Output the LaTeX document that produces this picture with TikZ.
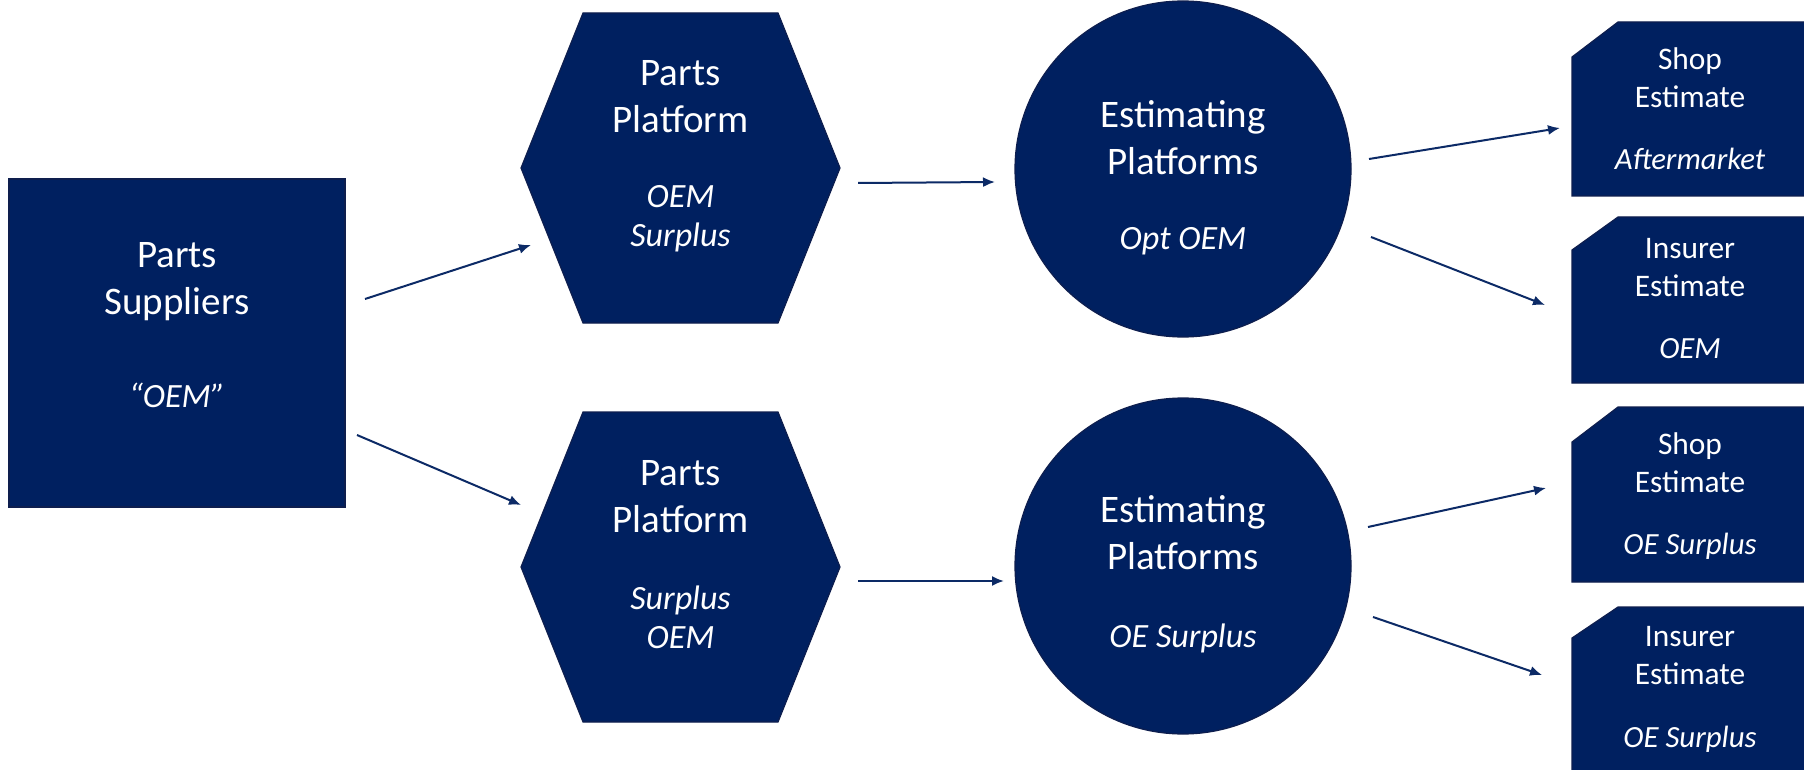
\documentclass[tikz,border=0pt]{standalone}
\usepackage{fontspec}
\setmainfont{Carlito}
\usetikzlibrary{arrows.meta,calc}
\definecolor{navy}{HTML}{002060}
\definecolor{navyline}{HTML}{0E1E4E}
\definecolor{arrowcol}{HTML}{0C2A66}
\begin{document}
\begin{tikzpicture}[x=0.5pt,y=-0.5pt,
  hidden/.style={draw=none,inner sep=0pt,outer sep=0pt,rectangle},
  fillshape/.style={fill=navy,draw=navyline,line width=0.6pt},
  title/.style={text=white,align=center,inner sep=0pt,font=\fontsize{19.5pt}{23.5pt}\selectfont},
  sub/.style={text=white,align=center,inner sep=0pt,font=\fontsize{17pt}{19.5pt}\selectfont\itshape},
  stitle/.style={text=white,align=center,inner sep=0pt,font=\fontsize{15.7pt}{19pt}\selectfont},
  ssub/.style={text=white,align=center,inner sep=0pt,font=\fontsize{15.4pt}{18pt}\selectfont\itshape},
  arr/.style={draw=arrowcol,line width=1pt,-{Latex[length=6pt,width=5pt]}}]
\useasboundingbox (0,0) rectangle (1804,770);
\fill[white] (0,0) rectangle (1804,770);

% square
\node[rectangle,fillshape,inner sep=0pt,outer sep=0pt,minimum width=168pt,minimum height=164pt] (sq) at (177,343) {};
\node[title] (sqT) at (177,282) {Parts\\Suppliers};
\node[sub] (sqS) at (177,395) {“OEM”};

% hexagons
\node[hidden,minimum width=159.5pt,minimum height=155pt] (hexA) at (680.5,168) {};
\filldraw[fillshape] (hexA.west) -- ($(hexA.north west)+(62,0)$) -- ($(hexA.north east)+(-62,0)$) -- (hexA.east) -- ($(hexA.south east)+(-62,0)$) -- ($(hexA.south west)+(62,0)$) -- cycle;
\node[title] (hexAT) at (680.5,97) {Parts\\Platform};
\node[sub] (hexAS) at (680.5,219) {OEM\\Surplus};

\node[hidden,minimum width=159.5pt,minimum height=155pt] (hexB) at (680.5,567) {};
\filldraw[fillshape] (hexB.west) -- ($(hexB.north west)+(62,0)$) -- ($(hexB.north east)+(-62,0)$) -- (hexB.east) -- ($(hexB.south east)+(-62,0)$) -- ($(hexB.south west)+(62,0)$) -- cycle;
\node[title] (hexBT) at (680.5,497) {Parts\\Platform};
\node[sub] (hexBS) at (680.5,617) {Surplus\\OEM};

% circles
\node[circle,fillshape,inner sep=0pt,outer sep=0pt,minimum size=168pt] (circA) at (1183,169) {};
\node[title] (circAT) at (1183,138) {Estimating\\Platforms};
\node[sub] (circAS) at (1183,241) {Opt OEM};
\node[circle,fillshape,inner sep=0pt,outer sep=0pt,minimum size=168pt] (circB) at (1183,566) {};
\node[title] (circBT) at (1183,533) {Estimating\\Platforms};
\node[sub] (circBS) at (1183,638) {OE Surplus};

% snipped boxes
\node[hidden,minimum width=118pt,minimum height=87pt] (boxA) at (1690,109) {};
\filldraw[fillshape] (boxA.south west) -- ($(boxA.north west)+(0,35)$) -- ($(boxA.north west)+(46,0)$) -- (boxA.north east) -- (boxA.south east) -- cycle;
\node[stitle] (boxAT) at (1690,78) {Shop\\Estimate};
\node[ssub] (boxAS) at (1690,159) {Aftermarket};

\node[hidden,minimum width=118pt,minimum height=83pt] (boxB) at (1690,300) {};
\filldraw[fillshape] (boxB.south west) -- ($(boxB.north west)+(0,33)$) -- ($(boxB.north west)+(46,0)$) -- (boxB.north east) -- (boxB.south east) -- cycle;
\node[stitle] (boxBT) at (1690,268) {Insurer\\Estimate};
\node[ssub] (boxBS) at (1690,349) {OEM};

\node[hidden,minimum width=118pt,minimum height=87.5pt] (boxC) at (1690,494.5) {};
\filldraw[fillshape] (boxC.south west) -- ($(boxC.north west)+(0,35)$) -- ($(boxC.north west)+(46,0)$) -- (boxC.north east) -- (boxC.south east) -- cycle;
\node[stitle] (boxCT) at (1690,463) {Shop\\Estimate};
\node[ssub] (boxCS) at (1690,546) {OE Surplus};

\node[hidden,minimum width=118pt,minimum height=86.5pt] (boxD) at (1690,693.5) {};
\filldraw[fillshape] (boxD.south west) -- ($(boxD.north west)+(0,31)$) -- ($(boxD.north west)+(46,0)$) -- (boxD.north east) -- (boxD.south east) -- cycle;
\node[stitle] (boxDT) at (1690,656) {Insurer\\Estimate};
\node[ssub] (boxDS) at (1690,739) {OE Surplus};

% arrows
\draw[arr] ($(sq.east)+(20,-44)$) -- ($(hexA.west)+(10,77)$);
\draw[arr] ($(sq.east)+(12,92)$) -- ($(hexB.west)+(0,-62)$);
\draw[arr] ($(hexA.east)+(18,15)$) -- ($(circA.west)+(-20,13)$);
\draw[arr] ($(hexB.east)+(18,14)$) -- ($(circB.west)+(-11,15)$);
\draw[arr] ($(circA.east)+(18,-10)$) -- ($(boxA.west)+(-12,19)$);
\draw[arr] ($(circA.east)+(20,68)$) -- ($(boxB.west)+(-27,5)$);
\draw[arr] ($(circB.east)+(17,-39)$) -- ($(boxC.west)+(-26,-6.5)$);
\draw[arr] ($(circB.east)+(22,51)$) -- ($(boxD.west)+(-30,-18.5)$);
\end{tikzpicture}
\end{document}
